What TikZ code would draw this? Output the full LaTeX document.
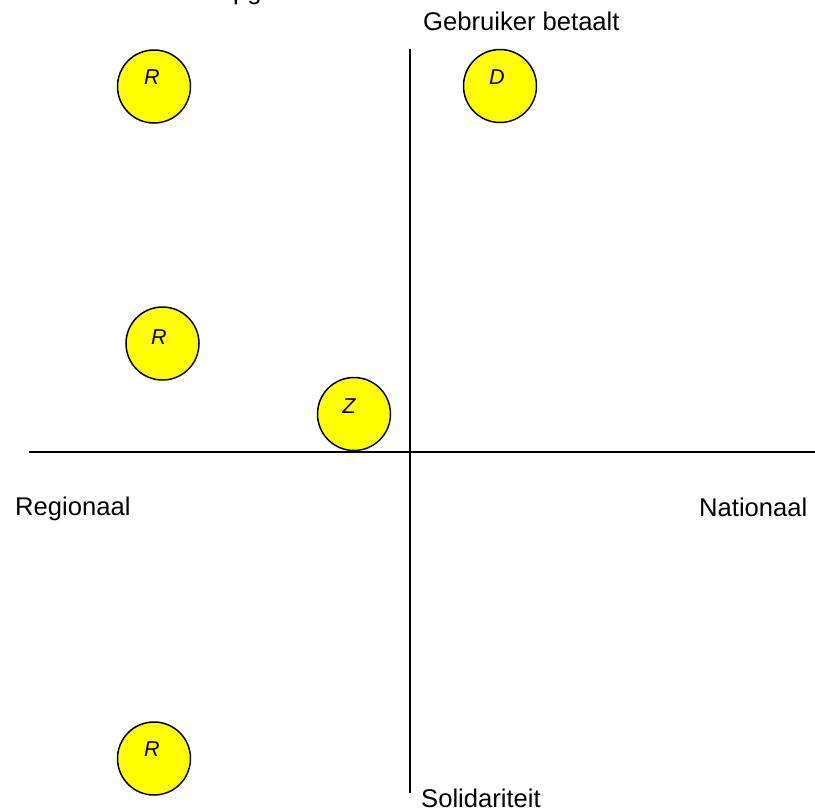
\documentclass[tikz,border=0pt]{standalone}
\usepackage{fontspec}
\setmainfont{Liberation Sans}
\definecolor{bubyellow}{RGB}{255,255,0}
\begin{document}
\begin{tikzpicture}[x=1pt,y=-1pt,
  axis/.style={line width=1.5pt,black},
  bubble/.style={circle,draw=black,line width=1.5pt,fill=bubyellow,minimum size=73pt,inner sep=0pt},
  bubtext/.style={inner sep=0pt,font=\fontsize{21.5}{25}\selectfont\itshape},
  lbl/.style={inner sep=0pt,anchor=base west,font=\fontsize{25.6}{30}\selectfont}]
\useasboundingbox (0,0) rectangle (815,812);
\begin{scope}
\clip (0,0) rectangle (815,812);
\node[lbl] (cut) at (233,-1) {pg};
\end{scope}
% axes
\coordinate (top) at (410,49);
\coordinate (bot) at (410,793);
\coordinate (left) at (29,452);
\coordinate (right) at (815,452);
\draw[axis] (top) -- (bot);
\draw[axis] (left) -- (right);
% labels
\node[lbl] (gb) at (423,30) {Gebruiker betaalt};
\node[lbl] (reg) at (15,515) {Regionaal};
\node[lbl] (nat) at (699,516) {Nationaal};
\node[lbl] (sol) at (421,807) {Solidariteit};
% bubbles
\node[bubble] (r1) at (154,86.5) {};
\node[bubtext] (r1t) at (152,77) {R};
\node[bubble] (d) at (500,86) {};
\node[bubtext] (dt) at (497,77) {D};
\node[bubble] (r2) at (162.5,343.5) {};
\node[bubtext] (r2t) at (159,337) {R};
\node[bubble] (z) at (354,414) {};
\node[bubtext] (zt) at (349,406) {Z};
\node[bubble] (r3) at (154,758.5) {};
\node[bubtext] (r3t) at (152,749) {R};
\end{tikzpicture}
\end{document}
